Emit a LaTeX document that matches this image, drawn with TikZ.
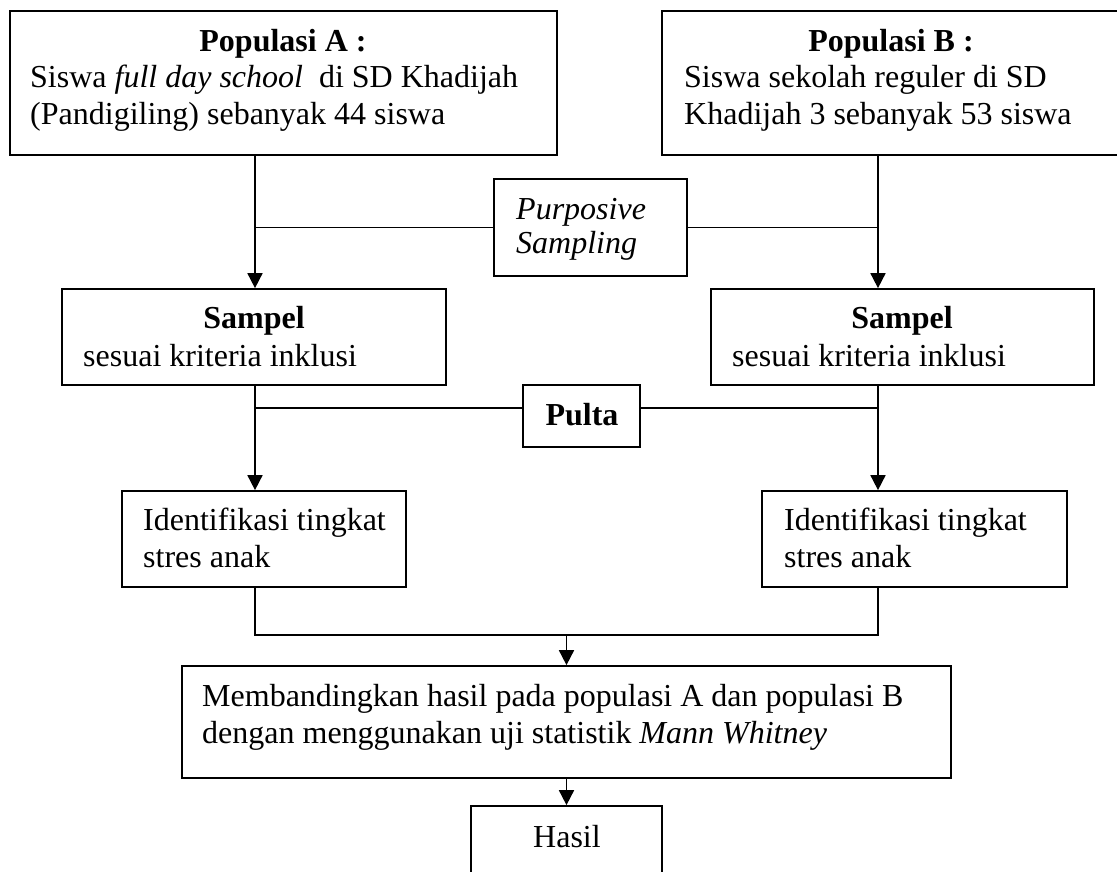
\documentclass[tikz,border=0pt]{standalone}
\usepackage{fontspec}
\setmainfont{Liberation Serif}
\usetikzlibrary{arrows.meta}
\begin{document}
\begin{tikzpicture}[x=1pt,y=-1pt,
  box/.style={draw, line width=1.7pt, inner sep=0pt, rectangle},
  txt/.style={inner sep=0pt, font=\fontsize{32}{37}\selectfont},
  ln/.style={line width=1.7pt},
  arr/.style={line width=1.7pt, -{Triangle[width=15pt,length=15pt]}}]
\clip (0,0) rectangle (1117,872);
\fill[white] (0,0) rectangle (1117,872);
% boxes
\node[box, minimum width=547pt, minimum height=144pt] (A) at (283.3,83) {};
\node[box, minimum width=458pt, minimum height=144pt] (B) at (891,83) {};
\node[box, minimum width=193pt, minimum height=97pt] (P) at (590.5,227.5) {};
\node[box, minimum width=384pt, minimum height=96pt] (SL) at (254,337) {};
\node[box, minimum width=383pt, minimum height=96pt] (SR) at (902.5,337) {};
\node[box, minimum width=117pt, minimum height=62pt] (Pu) at (581.5,416) {};
\node[box, minimum width=284pt, minimum height=96pt] (IL) at (264,539) {};
\node[box, minimum width=305pt, minimum height=96pt] (IR) at (914.5,539) {};
\node[box, minimum width=769pt, minimum height=112pt] (M) at (566.5,722) {};
\node[box, minimum width=191pt, minimum height=94pt] (H) at (566.5,853) {};
% texts
\node[txt, anchor=base] (tA1) at (283,52) {\bfseries Populasi A :};
\node[txt, anchor=base west] (tA2) at (30,88) {Siswa \textit{full day school}\ \ di SD Khadijah};
\node[txt, anchor=base west] (tA3) at (30,125) {(Pandigiling) sebanyak 44 siswa};
\node[txt, anchor=base] (tB1) at (891,52) {\bfseries Populasi B :};
\node[txt, anchor=base west] (tB2) at (684,88) {Siswa sekolah reguler di SD};
\node[txt, anchor=base west] (tB3) at (684,125) {Khadijah 3 sebanyak 53 siswa};
\node[txt, anchor=base west] (tP1) at (516,219) {\itshape Purposive};
\node[txt, anchor=base west] (tP2) at (516,253) {\itshape Sampling};
\node[txt, anchor=base] (tSL1) at (254,328) {\bfseries Sampel};
\node[txt, anchor=base west] (tSL2) at (83,366) {sesuai kriteria inklusi};
\node[txt, anchor=base] (tSR1) at (902,328) {\bfseries Sampel};
\node[txt, anchor=base west] (tSR2) at (732,366) {sesuai kriteria inklusi};
\node[txt, anchor=base] (tPu) at (582,425) {\bfseries Pulta};
\node[txt, anchor=base west] (tIL1) at (143,530) {Identifikasi tingkat};
\node[txt, anchor=base west] (tIL2) at (143,567) {stres anak};
\node[txt, anchor=base west] (tIR1) at (784,530) {Identifikasi tingkat};
\node[txt, anchor=base west] (tIR2) at (784,567) {stres anak};
\node[txt, anchor=base west] (tM1) at (202,706) {Membandingkan hasil pada populasi A dan populasi B};
\node[txt, anchor=base west] (tM2) at (202,743) {dengan menggunakan uji statistik \textit{Mann Whitney}};
\node[txt, anchor=base] (tH) at (567,847) {Hasil};
% helper coordinates
\coordinate (lx) at (255,0);
\coordinate (rx) at (878,0);
\coordinate (py) at (0,408);
\coordinate (bl) at (255,635);
\coordinate (br) at (878,635);
% connectors
\draw[arr] (A.south -| lx) -- (SL.north -| lx);
\draw[arr] (B.south -| rx) -- (SR.north -| rx);
\draw[ln] (P.west) -- (P.west -| lx);
\draw[ln] (P.east) -- (P.east -| rx);
\draw[arr] (SL.south -| lx) -- (IL.north -| lx);
\draw[arr] (SR.south -| rx) -- (IR.north -| rx);
\draw[ln] (Pu.west |- py) -- (lx |- py);
\draw[ln] (Pu.east |- py) -- (rx |- py);
\draw[ln] (IL.south -| lx) -- (bl) -- (br) -- (IR.south -| rx);
\draw[arr] (M.north |- bl) -- (M.north);
\draw[arr] (M.south) -- (H.north);
\end{tikzpicture}
\end{document}
